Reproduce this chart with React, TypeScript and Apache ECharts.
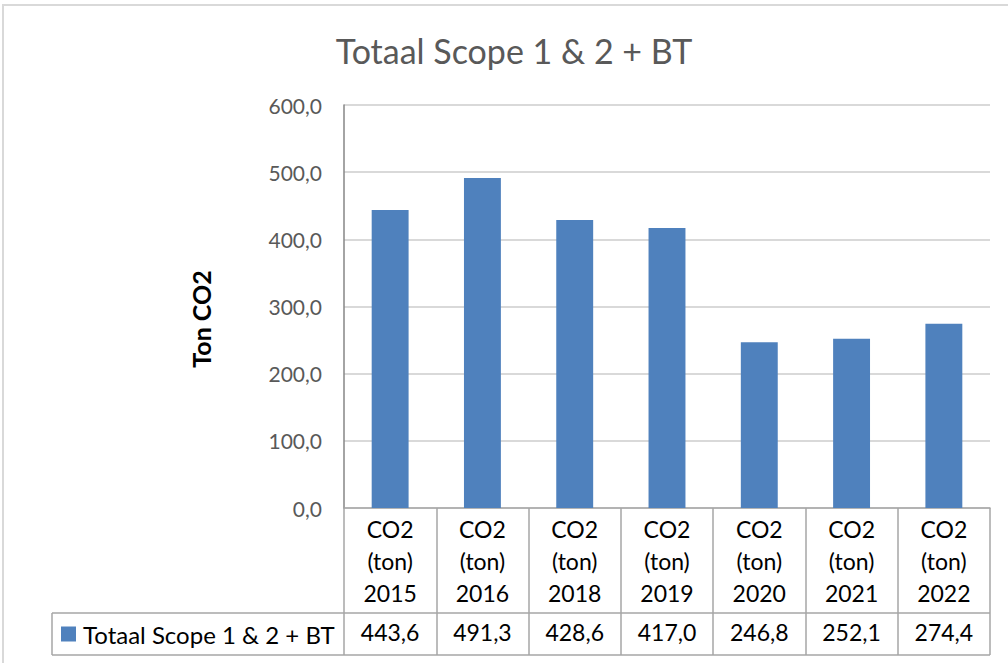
import React, { useEffect, useRef } from "react";
import * as echarts from "echarts";

const years = ["2015", "2016", "2018", "2019", "2020", "2021", "2022"];
const categories = years.map((y) => `CO2\n(ton)\n${y}`);
const values = [443.6, 491.3, 428.6, 417.0, 246.8, 252.1, 274.4];
const seriesName = "Totaal Scope 1 & 2 + BT";
const titleText = "Totaal Scope 1 & 2 + BT";
const yAxisTitle = "Ton CO2";
const yMin = 0;
const yMax = 600;
const yStep = 100;

const fmt = (v: number) => v.toFixed(1).replace(".", ",");

const FONT = "Lato, 'Noto Sans', sans-serif";
const BAR = "#4F81BD";
const GRID = "#D9D9D9";
const TABLE = "#A6A6A6";

export default function App() {
  const ref = useRef<HTMLDivElement>(null);
  useEffect(() => {
    if (!ref.current) return;
    const chart = echarts.init(ref.current, null, { renderer: "svg" });
    const gLeft = 344;
    const gRight = 990;
    const gTop = 105;
    const gBottom = 508;
    chart.setOption({
      animation: false,
      backgroundColor: "#FFFFFF",
      textStyle: { fontFamily: FONT },
      grid: {
        left: gLeft,
        right: 1008 - gRight,
        top: gTop,
        bottom: 663 - gBottom,
        containLabel: false,
      },
      legend: {
        show: true,
        data: [seriesName],
        left: 61,
        top: 622,
        padding: 0,
        itemWidth: 15,
        itemHeight: 15,
        icon: "rect",
        textStyle: { color: "#000000", fontSize: 24, fontFamily: FONT, padding: [0, 0, 0, 2] },
      },
      xAxis: [
        {
          type: "category",
          data: categories,
          position: "bottom",
          axisLine: { show: true, lineStyle: { color: TABLE, width: 1.5 } },
          axisTick: { show: true, length: 147, lineStyle: { color: TABLE, width: 1.5 } },
          axisLabel: {
            color: "#000000",
            fontSize: 23,
            lineHeight: 32,
            margin: 5,
            fontFamily: FONT,
            interval: 0,
          },
          splitLine: { show: false },
        },
        {
          type: "category",
          data: values.map(fmt),
          position: "bottom",
          offset: 112,
          axisLine: { show: false },
          axisTick: { show: false },
          axisLabel: {
            color: "#000000",
            fontSize: 23,
            lineHeight: 23,
            margin: 0,
            fontFamily: FONT,
            interval: 0,
          },
        },
      ],
      yAxis: {
        type: "value",
        min: yMin,
        max: yMax,
        interval: yStep,
        axisLine: { show: true, lineStyle: { color: "#868686", width: 1.5 } },
        axisTick: { show: false },
        axisLabel: {
          color: "#595959",
          fontSize: 21,
          margin: 22,
          fontFamily: FONT,
          formatter: (v: number) => fmt(v),
        },
        splitLine: { show: true, lineStyle: { color: GRID, width: 2 } },
      },
      series: [
        {
          name: seriesName,
          type: "bar",
          data: values,
          barWidth: "40%",
          itemStyle: { color: BAR },
        },
      ],
      graphic: [
        {
          type: "rect",
          shape: { x: 3, y: 5, width: 1040, height: 700 },
          style: { fill: "none", stroke: GRID, lineWidth: 2 },
          silent: true,
          z: -10,
        },
        {
          type: "text",
          x: 514,
          y: 50,
          style: {
            text: titleText,
            fill: "#595959",
            fontSize: 34,
            fontFamily: FONT,
            align: "center",
            verticalAlign: "middle",
          },
        },
        {
          type: "text",
          x: 201,
          y: 319,
          rotation: Math.PI / 2,
          style: {
            text: yAxisTitle,
            fill: "#000000",
            fontSize: 25,
            fontWeight: "bold",
            fontFamily: FONT,
            align: "center",
            verticalAlign: "middle",
          },
        },
        {
          type: "line",
          shape: { x1: 52, y1: 613, x2: gRight, y2: 613 },
          style: { stroke: TABLE, lineWidth: 1.5 },
        },
        {
          type: "line",
          shape: { x1: 52, y1: 655, x2: gRight, y2: 655 },
          style: { stroke: TABLE, lineWidth: 1.5 },
        },
        {
          type: "line",
          shape: { x1: 52, y1: 613, x2: 52, y2: 655 },
          style: { stroke: TABLE, lineWidth: 1.5 },
        },
      ],
    });
    return () => chart.dispose();
  }, []);
  return (
    <div
      ref={ref}
      style={{ position: "fixed", left: 0, top: 0, width: 1008, height: 663 }}
    />
  );
}
